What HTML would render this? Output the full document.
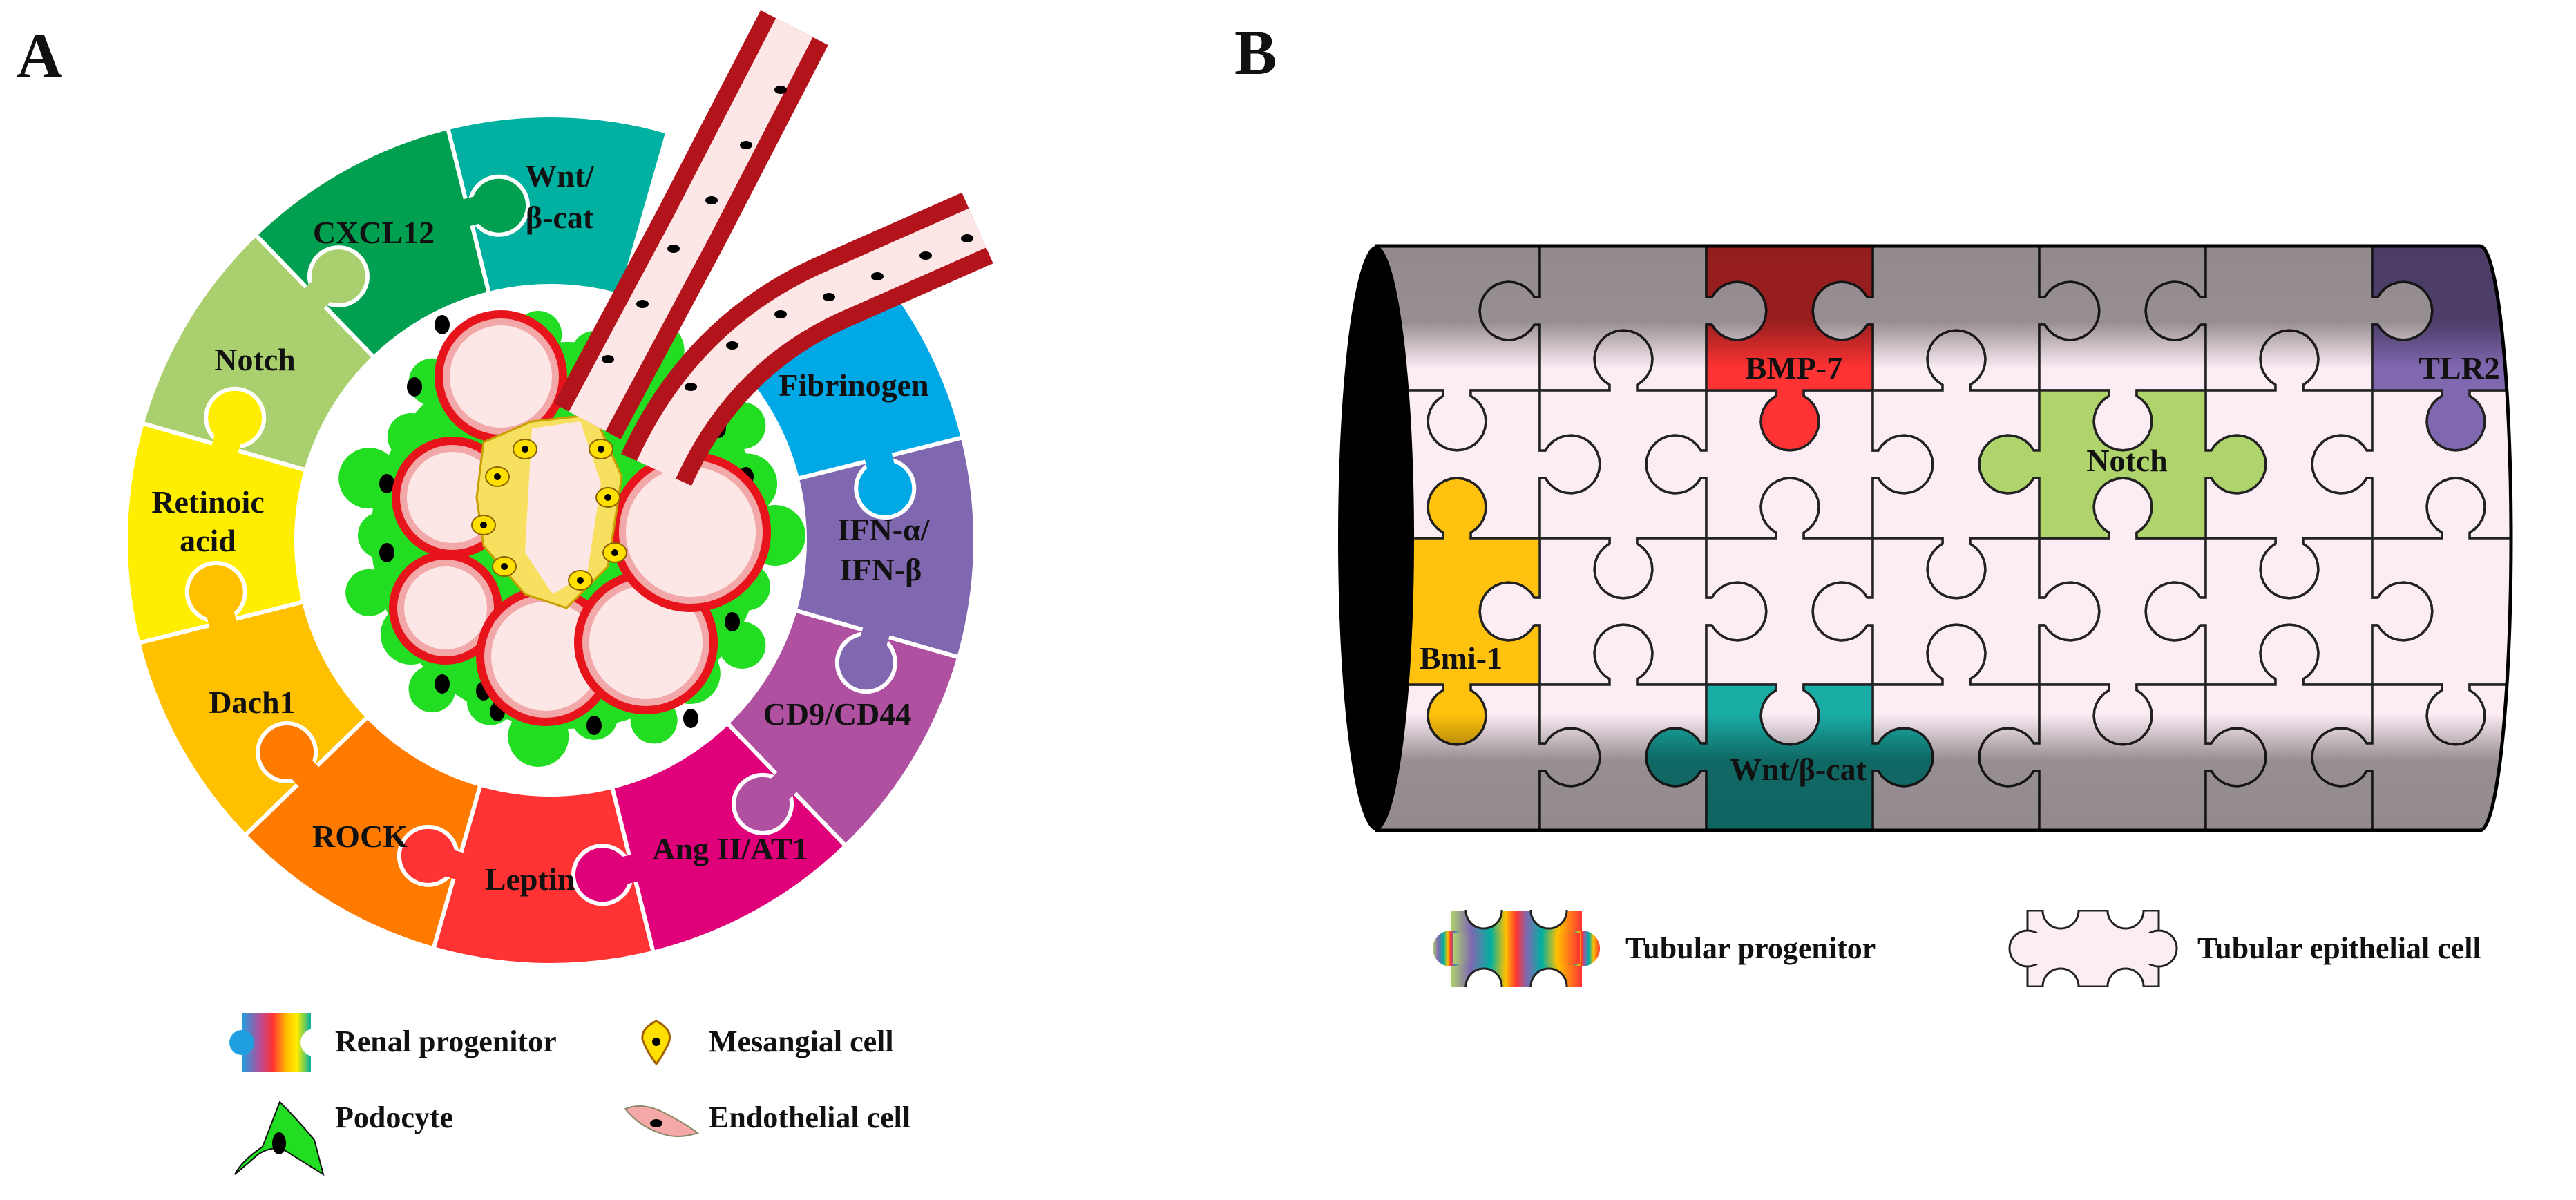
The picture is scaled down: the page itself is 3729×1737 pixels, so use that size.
<!DOCTYPE html>
<html><head><meta charset="utf-8"><style>
html,body{margin:0;padding:0;background:#fff;}
svg{display:block;}
text{font-family:"Liberation Serif",serif;font-weight:bold;fill:#111;}
</style></head><body>
<svg id="s" xmlns="http://www.w3.org/2000/svg" width="3729" height="1737" viewBox="0 0 3729 1737">
<defs>
<linearGradient id="topShade" x1="0" y1="356" x2="0" y2="1202" gradientUnits="userSpaceOnUse">
<stop offset="0" stop-color="#000" stop-opacity="0.42"/>
<stop offset="0.13" stop-color="#000" stop-opacity="0.40"/>
<stop offset="0.21" stop-color="#000" stop-opacity="0"/>
<stop offset="0.80" stop-color="#000" stop-opacity="0"/>
<stop offset="0.88" stop-color="#000" stop-opacity="0.40"/>
<stop offset="1" stop-color="#000" stop-opacity="0.42"/>
</linearGradient>
<linearGradient id="rainA" x1="0" y1="0" x2="1" y2="0">
<stop offset="0" stop-color="#1ea0e0"/><stop offset="0.25" stop-color="#b050a0"/><stop offset="0.45" stop-color="#ff3333"/><stop offset="0.65" stop-color="#ffc000"/><stop offset="0.8" stop-color="#ffee00"/><stop offset="1" stop-color="#00b0a0"/>
</linearGradient>
<linearGradient id="rainB" x1="0" y1="0" x2="1" y2="0">
<stop offset="0" stop-color="#b0d46c"/><stop offset="0.15" stop-color="#8068b0"/><stop offset="0.3" stop-color="#00b0a0"/><stop offset="0.42" stop-color="#ffc000"/><stop offset="0.5" stop-color="#ff3333"/><stop offset="0.58" stop-color="#8068b0"/><stop offset="0.7" stop-color="#00b0a0"/><stop offset="0.82" stop-color="#ffc000"/><stop offset="1" stop-color="#ff3333"/>
</linearGradient>
<clipPath id="tubeClip"><path d="M1990 356 L3590 356 A45 423 0 0 1 3590 1202 L1990 1202 Z"/></clipPath>
</defs>
<g id="ringG"></g>
<g id="glomG"></g>
<g id="tubeG" clip-path="url(#tubeClip)"></g>
<rect x="1900" y="356" width="1800" height="846" fill="url(#topShade)" clip-path="url(#tubeClip)"/>
<g fill="none" stroke="#000" stroke-width="5">
<line x1="1990" y1="356" x2="3590" y2="356"/>
<line x1="1990" y1="1202" x2="3590" y2="1202"/>
<path d="M3590 356 A45 423 0 0 1 3590 1202"/>
</g>
<ellipse cx="1992" cy="779" rx="55" ry="423" fill="#000"/>

<text x="24" y="111" font-size="92">A</text>
<text x="1787" y="107" font-size="92">B</text>
<g font-size="46" text-anchor="middle">
<text x="810" y="270">Wnt/</text><text x="810" y="330">β-cat</text>
<text x="541" y="352">CXCL12</text>
<text x="369" y="536">Notch</text>
<text x="301" y="742">Retinoic</text><text x="301" y="798">acid</text>
<text x="365" y="1032">Dach1</text>
<text x="521" y="1226">ROCK</text>
<text x="767" y="1288">Leptin</text>
<text x="1057" y="1244">Ang II/AT1</text>
<text x="1212" y="1049">CD9/CD44</text>
<text x="1279" y="782">IFN-α/</text><text x="1275" y="840">IFN-β</text>
<text x="1236" y="573">Fibrinogen</text>
</g>
<g>
<rect x="350" y="1466" width="100" height="86" fill="url(#rainA)"/>
<circle cx="350" cy="1509" r="18" fill="#1ea0e0"/>
<circle cx="455" cy="1509" r="20" fill="#fff"/>
<path d="M405 1595 L380 1660 Q350 1680 340 1700 L375 1670 Q400 1655 420 1670 L468 1700 L455 1650 Q430 1620 405 1595 Z" fill="#22dd22" stroke="#111" stroke-width="2"/>
<ellipse cx="404" cy="1655" rx="10" ry="16" fill="#000"/>
<path d="M950 1478 Q975 1490 968 1510 Q958 1530 950 1540 Q938 1525 930 1505 Q928 1488 950 1478 Z" fill="#ffe000" stroke="#a06000" stroke-width="3"/>
<circle cx="950" cy="1508" r="6" fill="#000"/>
<path d="M905 1605 Q930 1595 960 1610 Q990 1625 1010 1640 Q980 1650 955 1640 Q925 1630 905 1605 Z" fill="#f4a8a8" stroke="#886" stroke-width="2"/>
<ellipse cx="950" cy="1626" rx="9" ry="6" fill="#000"/>
</g>
<g font-size="44">
<text x="485" y="1522">Renal progenitor</text>
<text x="1026" y="1522">Mesangial cell</text>
<text x="485" y="1632">Podocyte</text>
<text x="1026" y="1632">Endothelial cell</text>
</g>
<g font-size="46" text-anchor="middle">
<text x="2597" y="548">BMP-7</text>
<text x="3560" y="548">TLR2</text>
<text x="3079" y="682">Notch</text>
<text x="2115" y="968">Bmi-1</text>
<text x="2603" y="1129">Wnt/β-cat</text>
</g>
<g id="legB"></g>
<g font-size="44">
<text x="2353" y="1387">Tubular progenitor</text>
<text x="3181" y="1387">Tubular epithelial cell</text>
</g>
</svg>
<script>
var NS="http://www.w3.org/2000/svg";
function el(p,tag,attrs){var e=document.createElementNS(NS,tag);for(var k in attrs)e.setAttribute(k,attrs[k]);p.appendChild(e);return e;}
var ring=document.getElementById("ringG");
var cx=797,cy=782,R=615,r0=368;
function P(rad,a){a=a*Math.PI/180;return [cx+rad*Math.sin(a),cy-rad*Math.cos(a)];}
var segs=[[-14,"#00b0a0"],[46,"#00a8e6"],[76,"#8068b0"],[106,"#b050a0"],[136,"#e0007a"],[166,"#ff3333"],[196,"#ff7b00"],[226,"#ffc000"],[256,"#ffee00"],[286,"#a9cf6e"],[316,"#00a050"]];
segs.forEach(function(s){var a1=s[0],a2=s[0]+30;var o1=P(R,a1),o2=P(R,a2),i1=P(r0,a1),i2=P(r0,a2);
el(ring,"path",{d:"M"+o1+" A"+R+" "+R+" 0 0 1 "+o2+" L"+i2+" A"+r0+" "+r0+" 0 0 0 "+i1+" Z",fill:s[1],stroke:"#fff","stroke-width":6});});
var kn=[[76,"#00a8e6"],[106,"#8068b0"],[136,"#b050a0"],[166,"#e0007a"],[196,"#ff3333"],[226,"#ff7b00"],[256,"#ffc000"],[286,"#ffee00"],[316,"#a9cf6e"],[346,"#00a050"]];
kn.forEach(function(k){var c=P(490,k[0]+5.2);el(ring,"circle",{cx:c[0],cy:c[1],r:42,fill:k[1],stroke:"#fff","stroke-width":6});
var a1=k[0]-2,a2=k[0]+2.5;var o1=P(470,a1),o2=P(470,a2),i1=P(510,a1),i2=P(510,a2);
el(ring,"path",{d:"M"+o1+" L"+o2+" L"+i2+" L"+i1+" Z",fill:k[1]});});
var g=document.getElementById("glomG");
var gx=822,gy=775;
el(g,"ellipse",{cx:gx,cy:gy,rx:285,ry:280,fill:"#22dd22"});
for(var i=0;i<22;i++){var a=i/22*2*Math.PI;var rr=(i%2?270:300);el(g,"circle",{cx:gx+rr*Math.cos(a),cy:gy+rr*Math.sin(a)*0.98,r:(i%3?34:44),fill:"#22dd22"});}
var nuc=[[600,560],[560,700],[590,860],[640,990],[720,1030],[860,1050],[980,990],[1060,900],[1090,760],[1040,620],[640,470],[700,1000],[560,800],[1000,1040],[900,1010],[1080,690]];
nuc.forEach(function(n){el(g,"ellipse",{cx:n[0],cy:n[1],rx:11,ry:14,fill:"#000"});});
var loops=[[725,545,80],[655,720,72],[645,880,66],[790,950,85],[935,930,88],[1000,770,100]];
loops.forEach(function(l){el(g,"circle",{cx:l[0],cy:l[1],r:l[2]+10,fill:"#f2a8a8",stroke:"#e8141c","stroke-width":12});el(g,"circle",{cx:l[0],cy:l[1],r:l[2]-6,fill:"#fde6e6"});});
el(g,"path",{d:"M700 640 L770 610 L860 600 L900 690 L880 820 L820 880 L760 860 L700 790 L690 720 Z",fill:"#f7e060",stroke:"#c8a000","stroke-width":3});
el(g,"path",{d:"M770 620 L840 610 L870 700 L850 830 L800 860 L760 800 Z",fill:"#fde6e6"});
var mc=[[720,690],[700,760],[760,650],[880,720],[890,800],[840,840],[730,820],[870,650]];
mc.forEach(function(m){el(g,"ellipse",{cx:m[0],cy:m[1],rx:17,ry:14,fill:"#ffe000",stroke:"#8a6000","stroke-width":2});el(g,"circle",{cx:m[0],cy:m[1],r:5,fill:"#000"});});
function vessel(d,w,lum){el(g,"path",{d:d,fill:"none",stroke:"#b3141c","stroke-width":w});el(g,"path",{d:d,fill:"none",stroke:"#fde6e6","stroke-width":lum});}
vessel("M850 610 L1000 330 L1150 40",110,60);
vessel("M950 680 C1000 570 1080 480 1200 425 L1415 330",112,62);
var vn=[[880,520],[930,440],[975,360],[1030,290],[1080,210],[1130,130],[1000,560],[1060,500],[1130,455],[1200,430],[1270,400],[1340,370],[1400,345]];
vn.forEach(function(n){el(g,"ellipse",{cx:n[0],cy:n[1],rx:9,ry:6,fill:"#000"});});
var tg=document.getElementById("tubeG");
var Y=[356,565,779,991,1202],YC=[450,672,885,1096];
function hdir(j,k){return ((k+j)%2==1)?1:-1;}
function vdir(m,r){var l=(m%2==0);if(r%2==1)l=!l;return l?-1:1;}
function knob(S,E,n){var h=20,rr=42,neck=8,d=Math.sqrt(rr*rr-h*h);var mx=(S[0]+E[0])/2,my=(S[1]+E[1])/2;
var tx=(E[0]-S[0])/(2*h),ty=(E[1]-S[1])/(2*h);var C=[mx+n[0]*(neck+d),my+n[1]*(neck+d)];
var pts=[S,[S[0]+n[0]*neck,S[1]+n[1]*neck]];var t0=Math.atan2(-d,-h),t1=Math.atan2(-d,h);var span=2*Math.PI+t0-t1;
for(var i=0;i<=24;i++){var th=t0-span*i/24;var c=Math.cos(th),s=Math.sin(th);pts.push([C[0]+rr*(c*tx+s*n[0]),C[1]+rr*(c*ty+s*n[1])]);}
pts.push([E[0]+n[0]*neck,E[1]+n[1]*neck]);pts.push(E);return pts;}
function piece(c,r,fill){var x0=c==0?1900:2229+241*(c-1),x1=c==6?3720:2229+241*c;var y0=r==0?300:Y[r],y1=r==3?1260:Y[r+1];var kx=2109+241*c,yc=YC[r];
var p=[[x0,y0]];
if(r>0)p=p.concat(knob([kx-20,y0],[kx+20,y0],[0,hdir(r,c)]));
p.push([x1,y0]);
if(c<6)p=p.concat(knob([x1,yc-20],[x1,yc+20],[vdir(c,r),0]));
p.push([x1,y1]);
if(r<3)p=p.concat(knob([kx+20,y1],[kx-20,y1],[0,hdir(r+1,c)]));
p.push([x0,y1]);
if(c>0)p=p.concat(knob([x0,yc+20],[x0,yc-20],[vdir(c-1,r),0]));
el(tg,"path",{d:"M"+p.map(function(q){return q[0].toFixed(1)+" "+q[1].toFixed(1);}).join(" L")+" Z",fill:fill,stroke:"#222","stroke-width":3.5});}
var col={"0,2":"#ff3333","0,6":"#8068b0","1,4":"#b0d46c","2,0":"#ffc20e","3,2":"#1aada6"};
for(var r=0;r<4;r++)for(var c=0;c<7;c++){var f=col[r+","+c];if(!f)piece(c,r,"#fcedf5");}
for(var r=0;r<4;r++)for(var c=0;c<7;c++){var f=col[r+","+c];if(f)piece(c,r,f);}
var lb=document.getElementById("legB");
function icon(x,fill,stroke){var gg=el(lb,"g",{});
el(gg,"rect",{x:x,y:1318,width:190,height:110,fill:fill,stroke:stroke,"stroke-width":3});
el(gg,"circle",{cx:x,cy:1373,r:26,fill:fill,stroke:stroke,"stroke-width":3});
el(gg,"circle",{cx:x+190,cy:1373,r:26,fill:fill,stroke:stroke,"stroke-width":3});
el(gg,"rect",{x:x+3,y:1350,width:184,height:46,fill:fill});
[x+48,x+142].forEach(function(k){el(gg,"circle",{cx:k,cy:1318,r:26,fill:"#fff",stroke:"#222","stroke-width":3});el(gg,"circle",{cx:k,cy:1428,r:26,fill:"#fff",stroke:"#222","stroke-width":3});});
el(gg,"rect",{x:x-40,y:1285,width:270,height:32,fill:"#fff"});el(gg,"rect",{x:x-40,y:1429,width:270,height:32,fill:"#fff"});}
icon(2100,"url(#rainB)","none");
icon(2935,"#fcedf5","#222");
</script>
</body></html>
